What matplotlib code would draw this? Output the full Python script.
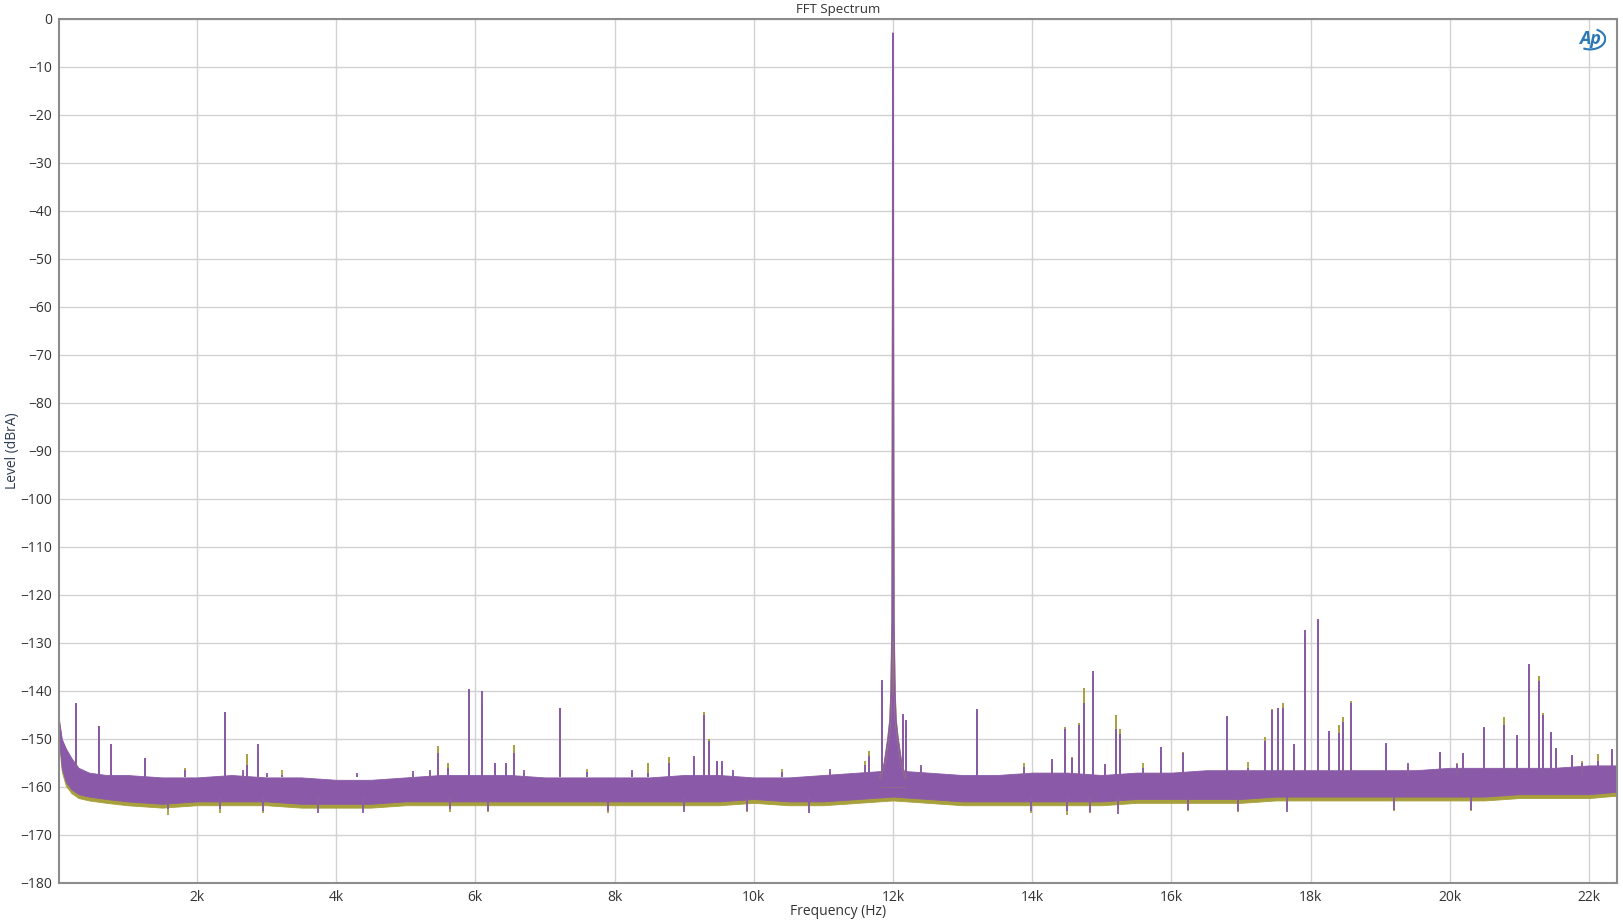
import matplotlib.pyplot as plt
from matplotlib.patches import Arc

# noise floor envelope (dBrA)
floor_f = [20, 60, 120, 200, 300, 450, 700, 1000, 1500, 2000, 2500, 3000, 3500, 4000,
           4500, 5000, 5500, 6000, 6500, 7000, 7500, 8000, 8500, 9000, 9500, 10000,
           10500, 11000, 11500, 12000, 12500, 13000, 13500, 14000, 14500, 15000, 15500,
           16000, 16500, 17000, 17500, 18000, 18500, 19000, 19500, 20000, 20500, 21000,
           21500, 22000, 22400]
purple_hi = [-146, -150, -152, -154, -156, -157, -157.5, -157.5, -158, -158, -157.5, -158,
             -158, -158.5, -158.5, -158, -157.5, -157.5, -157.5, -158, -158, -158, -158,
             -157.5, -157.5, -158, -158, -157.5, -157, -156.5, -157, -157.5, -157.5, -157,
             -157, -157.5, -157, -157, -156.5, -156.5, -156.5, -156.5, -156.5, -156.5,
             -156.5, -156, -156, -156, -156, -155.5, -155.5]
purple_lo = [-150, -156, -159, -160.5, -161.5, -162, -162.5, -163, -163.5, -163, -163, -163,
             -163.5, -163.5, -163.5, -163, -163, -163, -163, -163, -163, -163, -163, -163,
             -163, -162.5, -163, -163, -162.5, -162, -162.5, -163, -163, -163, -163, -163,
             -162.5, -162.5, -162.5, -162.5, -162, -162, -162, -162, -162, -162, -162,
             -161.5, -161.5, -161.5, -161]
olive_hi = [-146.3, -150.3, -152.3, -154.3, -156.3, -157.2, -157.7, -157.7, -158.2, -158.2,
            -157.7, -158.2, -158.2, -158.7, -158.7, -158.2, -157.7, -157.7, -157.7, -158.2,
            -158.2, -158.2, -158.2, -157.7, -157.7, -158.2, -158.2, -157.7, -157.2, -156.7,
            -157.2, -157.7, -157.7, -157.2, -157.2, -157.7, -157.2, -157.2, -156.7, -156.7,
            -156.7, -156.7, -156.7, -156.7, -156.7, -156.2, -156.2, -156.2, -156.2, -155.7,
            -155.7]
olive_lo = [-150.8, -156.8, -159.8, -161.3, -162.3, -162.8, -163.3, -163.8, -164.3, -163.8,
            -163.8, -163.8, -164.3, -164.3, -164.3, -163.8, -163.8, -163.8, -163.8, -163.8,
            -163.8, -163.8, -163.8, -163.8, -163.8, -163.3, -163.8, -163.8, -163.3, -162.8,
            -163.3, -163.8, -163.8, -163.8, -163.8, -163.8, -163.3, -163.3, -163.3, -163.3,
            -162.8, -162.8, -162.8, -162.8, -162.8, -162.8, -162.8, -162.3, -162.3, -162.3,
            -161.8]

# small floor peaks and dips that poke out of the band
bump_f = [1830, 2660, 3005, 3221, 4298, 5111, 5351, 6700, 7600, 8250, 9700, 10400, 11100,
          11600, 12400, 13881, 15595, 17103, 19400, 20100, 21900]
bump_purple = [-156.5, -156.5, -157, -157.5, -157, -156.6, -156.5, -156.5, -156.8, -156.5,
               -156.5, -156.8, -156.3, -155.5, -155.5, -155.8, -156, -156, -155, -155.3, -155]
bump_olive = [-156, -157, -157.5, -156.5, -157.5, -157, -156.8, -157, -156.3, -157,
              -157, -156.3, -156.8, -154.5, -155.8, -155, -155, -154.7, -155.5, -155, -154.5]
dip_f = [1592, 2335, 2957, 3746, 4393, 5638, 6188, 7900, 9000, 9900, 10800, 13978, 14504,
         14830, 15236, 16241, 16959, 17654, 19200, 20300]
dip_purple = [-164.5, -164.5, -165, -165.5, -165.5, -164.5, -165, -165, -165.3, -165,
              -165.5, -165, -165, -165.2, -165.6, -164.8, -165, -165.2, -164.8, -164.8]
dip_olive = [-165.8, -165.5, -165.4, -164.5, -164.5, -165.3, -165.3, -165.5, -164.5,
             -165.3, -165, -165.4, -165.9, -165.4, -164.5, -165.1, -165.3, -164.5, -165, -165]

# 12 kHz tone and its skirt
tone_f = [11820, 11880, 11930, 11960, 11975, 11990, 11997, 12000, 12003, 12010, 12025,
          12040, 12070, 12120, 12180]
tone_db = [-158, -155, -150, -146, -140, -125, -60, -3, -60, -125, -140, -146, -150, -155, -158]

# spurious lines: frequency, purple peak, olive peak
spike_f = [265, 600, 765, 1257, 2411, 2718, 2876, 5461, 5605, 5915, 6090, 6284, 6438, 6557,
           7218, 8486, 8788, 9142, 9287, 9350, 9470, 9550, 11655, 11838, 12150, 12190, 13200,
           14280, 14468, 14570, 14679, 14742, 14879, 15050, 15209, 15255, 15854, 16162,
           16805, 17338, 17450, 17535, 17607, 17759, 17925, 18098, 18258, 18410, 18470,
           18575, 19077, 19853, 20184, 20490, 20776, 20958, 21140, 21280, 21330, 21450,
           21524, 21750, 22129, 22322]
spike_purple = [-142.5, -147.3, -151, -154, -144.4, -155.5, -151.1, -153, -156, -139.6, -140,
                -155, -155, -153, -143.5, -157, -155, -153.5, -145, -150.5, -154.5, -154.5,
                -153.5, -137.7, -144.8, -146, -143.8, -154.2, -148, -154, -147, -142.4,
                -135.8, -155.2, -148, -149, -151.6, -153, -145.2, -150.5, -144, -143.6,
                -143.5, -151, -127.3, -125, -148.4, -148.7, -146.5, -142.5, -150.9, -152.7,
                -153, -147.5, -147, -149.2, -134.4, -138, -145, -148.5, -151.8, -153.3,
                -154.5, -152.1]
spike_olive = [-142.5, -147.3, -151, -154, -144.4, -153.2, -152.5, -151.5, -155, -139.8,
               -142.5, -155.5, -155, -151.3, -144, -155, -153.8, -154.5, -144.3, -149.9,
               -155, -155, -152.6, -138.5, -145.5, -146.5, -144.5, -155, -147.5, -153.8,
               -146.6, -139.3, -137, -156, -145, -148, -152.5, -152.7, -145.5, -149.5,
               -143.8, -144.5, -142.6, -153, -128.5, -125.5, -149, -147, -145.4, -142.1,
               -151.5, -153.5, -153.5, -147.8, -145.5, -150, -135, -136.9, -144.6, -149,
               -152, -154, -153.2, -153]

x_ticks = [2000, 4000, 6000, 8000, 10000, 12000, 14000, 16000, 18000, 20000, 22000]
x_labels = ['2k', '4k', '6k', '8k', '10k', '12k', '14k', '16k', '18k', '20k', '22k']
y_ticks = list(range(-180, 1, 10))

purple = '#8a5aa8'
olive = '#a8a03c'
txt = '#333333'

plt.rcParams['font.family'] = ['Open Sans', 'DejaVu Sans']

fig = plt.figure(figsize=(16.24, 9.24), dpi=100)
ax = fig.add_axes([59 / 1624, 41 / 924, 1558 / 1624, 864 / 924])

# olive trace underneath, purple on top
ax.fill_between(floor_f, olive_lo, olive_hi, color=olive, lw=0.6)
ax.vlines(dip_f, -162, dip_olive, color=olive, lw=1.3)
ax.vlines(bump_f, -158, bump_olive, color=olive, lw=1.3)
ax.fill_between(floor_f, purple_lo, purple_hi, color=purple, lw=0.6)
ax.vlines(dip_f, -161, dip_purple, color=purple, lw=1.3)
ax.vlines(bump_f, -158, bump_purple, color=purple, lw=1.3)
ax.vlines(spike_f, -158, spike_olive, color=olive, lw=1.4)
ax.vlines(spike_f, -158, spike_purple, color=purple, lw=1.4)
ax.fill_between(tone_f, -160, tone_db, color=olive, lw=0)
ax.plot(tone_f, tone_db, color=olive, lw=1.4)
ax.fill_between(tone_f, -160, tone_db, color=purple, lw=0)
ax.plot(tone_f, tone_db, color=purple, lw=1.2)

ax.set_xlim(20, 22400)
ax.set_ylim(-180, 0)
ax.set_xticks(x_ticks)
ax.set_xticklabels(x_labels)
ax.set_yticks(y_ticks)
ax.tick_params(length=0, labelsize=10, colors=txt, pad=5)
ax.grid(True, color='#d2d2d2', lw=1)
ax.set_axisbelow(True)
for s in ax.spines.values():
    s.set_color('#8c8c8c')
    s.set_linewidth(1.5)

fig.text(0.516, 0.990, 'FFT Spectrum', ha='center', va='center', fontsize=9.5, color=txt)
fig.text(0.516, 0.014, 'Frequency (Hz)', ha='center', va='center', fontsize=10, color=txt)
fig.text(0.0075, 0.512, 'Level (dBrA)', ha='center', va='center', rotation=90,
         fontsize=10, color='#2e3a50')

# AP logo
fig.text(1590 / 1624, 1 - 39 / 924, 'Ap', ha='center', va='center', fontsize=13,
         fontweight='bold', style='italic', color='#2a78b8')
logo_ax = fig.add_axes([1574 / 1624, 1 - 52 / 924, 32 / 1624, 26 / 924])
logo_ax.add_patch(Arc((0.5, 0.5), 0.95, 0.8, theta1=-120, theta2=60, color='#2a78b8', lw=1.5))
logo_ax.set_xlim(0, 1)
logo_ax.set_ylim(0, 1)
logo_ax.axis('off')

fig.savefig('out.png', dpi=100)
